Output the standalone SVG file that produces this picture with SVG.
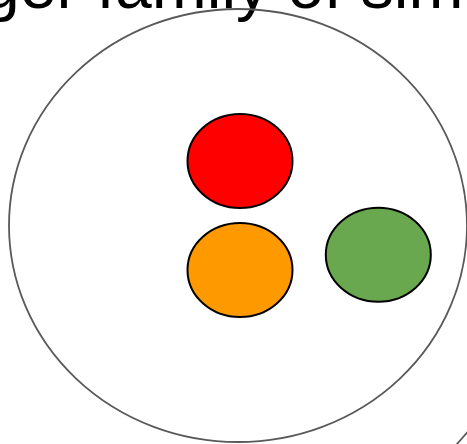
<svg xmlns="http://www.w3.org/2000/svg" width="467" height="444" viewBox="0 0 467 444">
<style>
.dot{stroke:#000;stroke-width:2}
.edge{fill:none;stroke:#595959;stroke-width:1.8}
.title{font-family:"Liberation Sans",Arial,sans-serif;font-size:66px;fill:#000}
</style>
<rect width="467" height="444" fill="#fff"/>
<text class="title" x="-17" y="8">ger family of sim</text>
<g id="outer">
<ellipse class="edge" cx="238" cy="225.5" rx="229" ry="216.5"/>
</g>
<g id="red"><ellipse class="dot" cx="240" cy="161" rx="52.5" ry="47" fill="#ff0000"/></g>
<g id="orange"><ellipse class="dot" cx="240" cy="270" rx="52.5" ry="47" fill="#ff9900"/></g>
<g id="green"><ellipse class="dot" cx="378.3" cy="254.7" rx="52.5" ry="47" fill="#6aa84f"/></g>
<g id="connectors">
<line class="edge" x1="456.5" y1="444.5" x2="467.5" y2="432"/>
</g>
</svg>
